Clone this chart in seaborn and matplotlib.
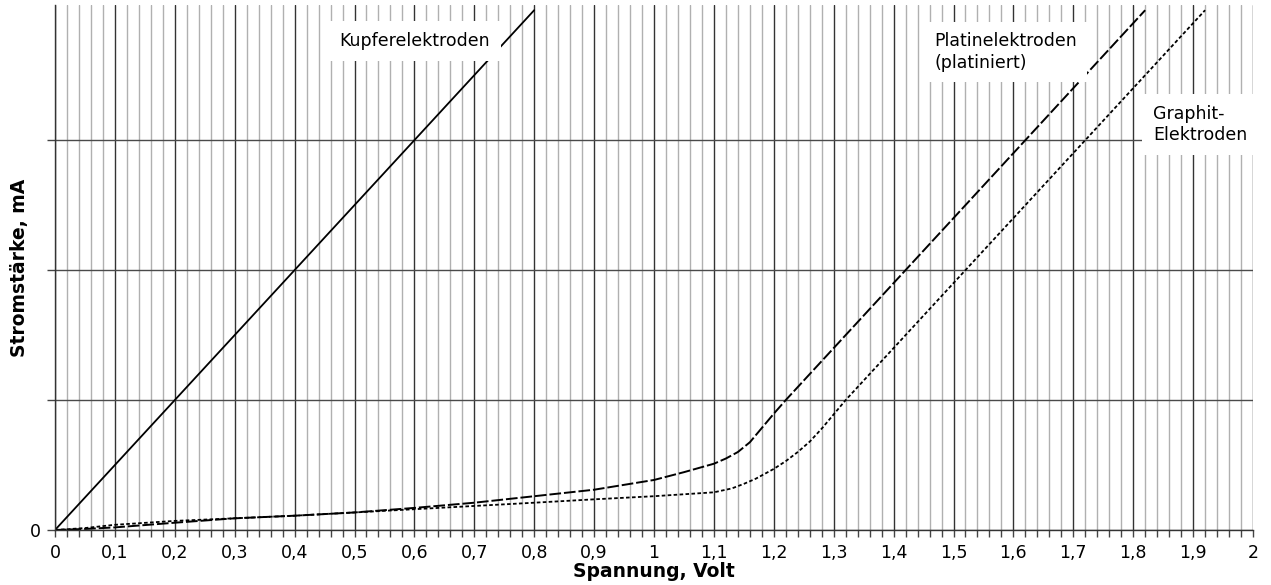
import numpy as np
import matplotlib
matplotlib.use("Agg")
import matplotlib.pyplot as plt
import seaborn as sns
from matplotlib.ticker import MultipleLocator, FixedLocator, FuncFormatter

# Kupferelektroden (solid)
u_kupfer = [0.0, 0.8]
i_kupfer = [0.0, 4.0]

# Platinelektroden, platiniert (dashed)
u_platin = [0.0, 0.05, 0.1, 0.2, 0.3, 0.4, 0.5, 0.6, 0.7, 0.8, 0.9, 1.0,
            1.05, 1.1, 1.12, 1.14, 1.16, 1.18, 1.2, 1.22, 1.25, 1.82]
i_platin = [0.0, 0.008, 0.02, 0.056, 0.09, 0.11, 0.135, 0.17, 0.21, 0.26, 0.31, 0.385,
            0.445, 0.51, 0.55, 0.60, 0.675, 0.785, 0.895, 1.0, 1.15, 4.0]

# Graphit-Elektroden (dotted)
u_graphit = [0.0, 0.05, 0.1, 0.2, 0.3, 0.4, 0.5, 0.6, 0.7, 0.8, 0.9, 1.0,
             1.1, 1.13, 1.15, 1.17, 1.2, 1.22, 1.24, 1.26, 1.28, 1.3, 1.32, 1.35, 1.92]
i_graphit = [0.0, 0.015, 0.04, 0.07, 0.09, 0.11, 0.135, 0.16, 0.185, 0.21, 0.236, 0.26,
             0.29, 0.32, 0.355, 0.395, 0.47, 0.53, 0.60, 0.68, 0.78, 0.89, 1.0, 1.15, 4.0]

y_ticks = [0, 1, 2, 3]
y_ticklabels = ["0", "", "", ""]

sns.set_theme(style="white")
plt.rcParams['font.family'] = ['DejaVu Sans']
plt.rcParams['text.color'] = 'black'
plt.rcParams['axes.labelcolor'] = 'black'

fig = plt.figure(figsize=(12.71, 5.85), dpi=100)
ax = fig.add_axes([55 / 1271, 55 / 585, 1198 / 1271, 525 / 585])

# grid
ax.xaxis.set_major_locator(MultipleLocator(0.1))
ax.xaxis.set_minor_locator(MultipleLocator(0.02))
ax.yaxis.set_major_locator(FixedLocator(y_ticks))
ax.grid(which='minor', axis='x', color='#b0b0b0', lw=1.0, zorder=0)
ax.grid(which='major', axis='x', color='#333333', lw=1.0, zorder=0)
ax.grid(which='major', axis='y', color='#4a4a4a', lw=1.0, zorder=0)
ax.set_axisbelow(True)

sns.lineplot(x=u_kupfer, y=i_kupfer, ax=ax, color='black', lw=1.3, zorder=2)
sns.lineplot(x=u_platin, y=i_platin, ax=ax, color='black', lw=1.4,
             linestyle=(0, (6, 1.5)), zorder=2)
sns.lineplot(x=u_graphit, y=i_graphit, ax=ax, color='black', lw=1.3,
             linestyle=(0, (2, 1.3)), zorder=2)

ax.set_xlim(0, 2)
ax.set_ylim(0, 4.04)

ax.xaxis.set_major_formatter(FuncFormatter(lambda v, p: f"{v:.1f}".rstrip('0').rstrip('.').replace('.', ',')))
ax.set_yticklabels(y_ticklabels)

ax.tick_params(axis='x', which='both', bottom=True, length=5, width=1, color='#444444',
               labelsize=12.5, pad=5, labelcolor='black')
ax.tick_params(axis='y', which='major', left=True, length=6, width=1, color='#444444',
               labelsize=12.5, pad=4, labelcolor='black')

for side in ['top', 'right']:
    ax.spines[side].set_visible(False)
ax.spines['left'].set_color('#333333')
ax.spines['bottom'].set_color('#333333')
ax.spines['left'].set_linewidth(1.0)
ax.spines['bottom'].set_linewidth(1.0)

ax.set_xlabel("Spannung, Volt", fontsize=13.5, fontweight='bold', labelpad=0)
ax.set_ylabel("Stromstärke, mA", fontsize=13.5, fontweight='bold')
ax.yaxis.set_label_coords(-0.022, 0.5)

box = dict(facecolor='white', edgecolor='none', pad=8)
ax.text(0.6, 3.76, "Kupferelektroden", fontsize=12.5, ha='center', va='center',
        bbox=box, zorder=5)
ax.text(1.468, 3.68, "Platinelektroden\n(platiniert)", fontsize=12.5, ha='left', va='center',
        linespacing=1.3, bbox=dict(facecolor='white', edgecolor='none', pad=7), zorder=5)
ax.text(1.833, 3.12, "Graphit-\nElektroden", fontsize=12.5, ha='left', va='center',
        linespacing=1.2, bbox=dict(facecolor='white', edgecolor='none', pad=8), zorder=5)

fig.savefig("out.png", dpi=100)
